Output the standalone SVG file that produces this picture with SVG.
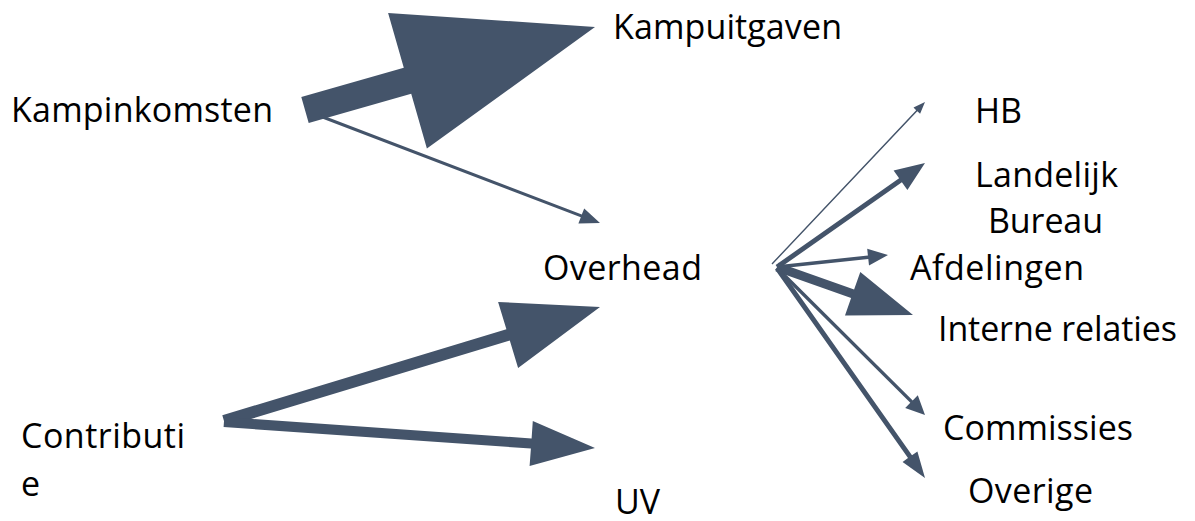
<svg xmlns="http://www.w3.org/2000/svg" width="1195" height="521" viewBox="0 0 1195 521">
<style>
  .lbl { font-family: "Open Sans", "Liberation Sans", sans-serif; font-size: 34px; fill: #000000; }
  .arr { fill: #44546A; stroke: none; }
</style>
<rect x="0" y="0" width="1195" height="521" fill="#ffffff"/>
<g id="connectors">
  <polygon class="arr" points="308.7,123.0 411.2,93.7 426.9,148.5 595,27 388.1,12.9 403.8,67.7 301.3,97.0"/>
  <polygon class="arr" points="319.5,117.4 580.8,217.3 578.4,223.4 600,223 584.2,208.4 581.8,214.5 320.5,114.6"/>
  <polygon class="arr" points="225.7,426.7 509.8,340.6 518.1,367.9 600,307 498.1,301.9 506.4,329.2 222.3,415.3"/>
  <polygon class="arr" points="223.6,427.0 530.9,448.5 529.6,465.9 595,448 532.8,421.1 531.6,438.5 224.3,417.0"/>
  <polygon class="arr" points="772.5,264.5 917.3,111.2 920.1,113.8 925,102 913.5,107.6 916.2,110.2 771.5,263.5"/>
  <polygon class="arr" points="778.4,269.0 901.9,182.3 907.4,190.0 925,163 893.6,170.4 899.1,178.2 775.6,265.0"/>
  <polygon class="arr" points="777.2,268.7 868.3,258.9 869.0,265.6 888,255 867.2,248.7 867.9,255.5 776.8,265.3"/>
  <polygon class="arr" points="775.5,271.2 851.1,297.9 845.0,315.4 913,315 860.3,272.0 854.1,289.5 778.5,262.8"/>
  <polygon class="arr" points="775.8,269.2 910.3,402.8 905.2,408.0 925,415 917.8,395.2 912.7,400.4 778.2,266.8"/>
  <polygon class="arr" points="775.0,269.4 908.0,458.1 902.6,461.9 925,478 917.4,451.5 912.0,455.3 779.0,266.6"/>
</g>
<g id="kampinkomsten"><text class="lbl" x="11" y="122" textLength="262">Kampinkomsten</text></g>
<g id="kampuitgaven"><text class="lbl" x="613" y="39" textLength="229">Kampuitgaven</text></g>
<g id="overhead"><text class="lbl" x="543" y="280" textLength="159">Overhead</text></g>
<g id="contributie"><text class="lbl" x="21" y="448"><tspan x="21" y="448" textLength="164">Contributi</tspan><tspan x="21" y="496">e</tspan></text></g>
<g id="uv"><text class="lbl" x="615" y="514">UV</text></g>
<g id="hb"><text class="lbl" x="975" y="123">HB</text></g>
<g id="landelijk-bureau"><text class="lbl" x="975" y="187"><tspan x="975" y="187" textLength="143">Landelijk</tspan><tspan x="988" y="233" textLength="115">Bureau</tspan></text></g>
<g id="afdelingen"><text class="lbl" x="910" y="280" textLength="174">Afdelingen</text></g>
<g id="interne-relaties"><text class="lbl" x="938" y="341" textLength="239">Interne relaties</text></g>
<g id="commissies"><text class="lbl" x="943" y="440" textLength="190">Commissies</text></g>
<g id="overige"><text class="lbl" x="968" y="503" textLength="125">Overige</text></g>
</svg>
